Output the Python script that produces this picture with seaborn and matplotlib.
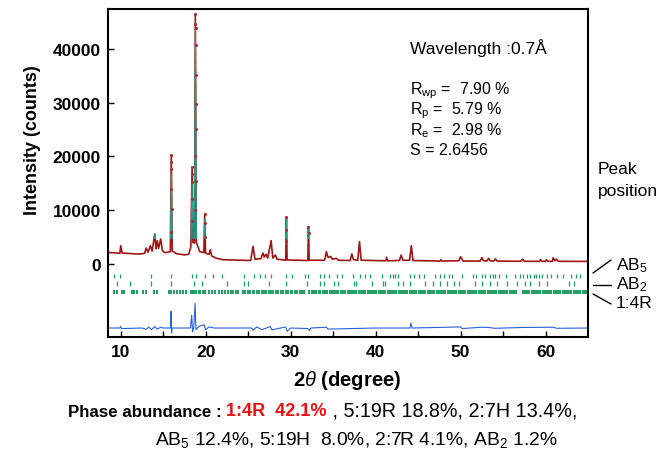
import numpy as np
import pandas as pd
import matplotlib
matplotlib.use("Agg")
import matplotlib.pyplot as plt
from matplotlib.patches import Rectangle
from matplotlib.lines import Line2D
import seaborn as sns

two_theta = [8.5, 9.5, 9.9, 10.0, 10.15, 11.0, 12.0, 12.8, 13.0, 13.2, 13.5, 13.7, 14.0, 14.15,
             14.3, 14.45, 14.7, 14.9, 15.2, 15.84, 15.95, 16.06, 16.6, 17.5, 18.0, 18.25, 18.4, 18.5,
             18.68, 18.78, 18.9, 19.3, 19.78, 19.88, 19.98, 20.4, 20.55, 20.7, 21.2, 22.0, 25.3, 25.57,
             25.8, 26.5, 26.74, 26.9, 27.1, 27.3, 27.7, 27.9, 28.2, 28.4, 29.42, 29.5, 29.58, 32.02,
             32.1, 32.18, 34.0, 34.2, 34.4, 34.7, 34.9, 35.4, 35.6, 37.0, 37.2, 37.4, 37.9, 38.1,
             38.3, 41.2, 41.3, 41.4, 42.8, 43.0, 43.2, 44.0, 44.2, 44.4, 47.6, 47.7, 47.8, 49.8,
             50.0, 50.3, 52.3, 52.5, 52.7, 53.1, 53.3, 53.5, 53.9, 54.1, 54.3, 57.1, 57.3, 57.5,
             59.3, 59.4, 59.6, 60.0, 60.1, 60.3, 60.8, 60.9, 61.1, 61.3, 61.5, 65.0]
y_obs = [2150, 2050, 2000, 3400, 2050, 1950, 1850, 1950, 2970, 2200, 3400, 2400, 5580, 2800,
         4330, 2900, 4650, 2500, 2100, 2300, 20260, 2400, 1900, 1700, 1800, 3200, 17970, 4000,
         3900, 46500, 4000, 2300, 2100, 9290, 2000, 1800, 2660, 1500, 1100, 800, 650, 3280,
         900, 1000, 2040, 1300, 1800, 1100, 4340, 1100, 1670, 900, 700, 8700, 750, 650,
         6850, 700, 700, 2290, 1200, 1400, 900, 1050, 700, 650, 1860, 800, 700, 4150,
         700, 600, 1230, 600, 650, 1670, 700, 700, 3400, 650, 550, 800, 550, 600,
         1350, 550, 550, 1170, 600, 550, 1050, 600, 550, 950, 550, 500, 900, 500,
         500, 800, 500, 500, 800, 500, 500, 1170, 600, 900, 500, 480]
y_calc = [2150, 2050, 2000, 3400, 2050, 1950, 1850, 1950, 2970, 2200, 3400, 2400, 5580, 2800,
          4330, 2900, 4650, 2500, 2100, 2300, 16700, 2400, 1900, 1700, 1800, 3200, 15240, 4000,
          3900, 43400, 4000, 2300, 2100, 8360, 2000, 1800, 2660, 1500, 1100, 800, 650, 3280,
          900, 1000, 2040, 1300, 1800, 1100, 4340, 1100, 1670, 900, 700, 8300, 750, 650,
          6500, 700, 700, 2290, 1200, 1400, 900, 1050, 700, 650, 1860, 800, 700, 4150,
          700, 600, 1230, 600, 650, 1670, 700, 700, 3400, 650, 550, 800, 550, 600,
          1350, 550, 550, 1170, 600, 550, 1050, 600, 550, 950, 550, 500, 900, 500,
          500, 800, 500, 500, 800, 500, 500, 1170, 600, 900, 500, 480]

# separate observed dots visible on the tall peaks
dot_x = [15.93, 15.94, 15.95, 15.96, 15.97, 15.98, 18.38, 18.39, 18.4, 18.41, 18.42,
         18.76, 18.77, 18.78, 18.79, 18.8, 18.81, 18.82, 18.83, 18.84, 18.85,
         19.87, 19.88, 19.89, 29.49, 29.5, 29.51, 32.09, 32.1, 32.11]
dot_y = [6000, 14000, 20260, 19000, 17700, 10300, 8000, 17970, 16800, 15200, 12000,
         10100, 20000, 46500, 44600, 43900, 40800, 35100, 29800, 25100, 15500,
         5000, 9290, 7600, 4200, 8700, 6300, 3500, 6850, 5800]

# difference curve
diff_x = [8.5, 9.9, 10.0, 10.1, 12.5, 13.0, 13.3, 13.6, 14.0, 14.3, 14.7, 15.0, 15.85, 15.92,
          15.98, 16.05, 18.2, 18.35, 18.45, 18.6, 18.75, 18.85, 19.2, 19.8, 20.0, 20.4, 21.0,
          25.4, 25.6, 26.0, 26.6, 27.6, 27.8, 29.4, 29.6, 30.0, 32.0, 32.2, 32.4, 34.2, 34.4,
          40.0, 44.05, 44.15, 44.3, 50.0, 50.2, 52.5, 53.3, 54.0, 57.3, 60.9, 61.3, 65.0]
diff_y = [-11900, -11900, -11600, -12000, -11900, -12150, -11700, -12200, -11650, -12100,
          -11750, -11900, -11900, -8800, -12800, -11900, -11900, -9500, -12600, -11700,
          -7300, -12200, -11600, -11300, -12200, -11700, -11900, -11900, -12300, -11700,
          -12200, -11650, -12250, -11700, -12500, -11900, -12000, -12350, -11900, -11750,
          -12100, -11900, -11900, -11000, -11900, -11700, -12000, -11750, -11800, -11950,
          -11800, -11750, -11950, -11900]

# Bragg peak positions per phase
pos_ab5 = [9.26, 9.88, 13.6, 15.96, 18.39, 18.8, 19.96, 20.9, 21.9, 24.55, 25.65, 26.35, 27.0,
           27.7, 29.5, 30.15, 31.7, 32.0, 33.5, 33.9, 34.5, 35.45, 36.05, 37.3, 38.2, 38.7,
           39.3, 40.75, 41.65, 42.0, 42.3, 42.6, 44.1, 44.5, 45.05, 45.75, 47.0, 47.6, 48.0,
           48.6, 49.0, 50.15, 51.5, 51.8, 52.5, 52.9, 53.5, 53.8, 54.1, 54.5, 55.3, 56.4,
           57.0, 57.3, 57.8, 58.2, 58.6, 58.9, 59.2, 59.6, 60.2, 60.7, 61.3, 62.0, 63.0,
           63.6, 64.0]
pos_ab2 = [9.6, 11.1, 13.6, 15.9, 18.6, 19.6, 22.5, 24.55, 24.95, 27.5, 29.4, 31.9, 33.5,
           33.9, 35.06, 35.6, 37.4, 37.7, 39.6, 40.9, 41.1, 42.6, 43.2, 44.0, 45.8, 46.7,
           47.6, 48.4, 49.2, 49.8, 51.7, 52.5, 53.5, 54.3, 55.45, 56.6, 57.6, 58.2, 59.2,
           60.15, 62.8, 63.3]
pos_14r = [9.26, 9.57, 10.15, 10.43, 11.33, 11.61, 11.92, 12.62, 13.02, 13.88, 14.27, 15.65,
           15.96, 16.3, 16.62, 16.94, 17.33, 17.73, 18.27, 18.5, 18.67, 18.9, 19.18, 19.38,
           19.68, 19.96, 20.35, 20.74, 21.14, 21.53, 21.92, 22.3, 22.61, 22.95, 23.2, 23.55,
           23.78, 24.4, 24.66, 24.93, 25.2, 25.52, 25.74, 26.05, 26.31, 26.6, 26.83, 27.12,
           27.45, 27.7, 27.98, 28.3, 28.52, 28.85, 29.12, 29.4, 29.68, 30.0, 30.21, 30.55,
           30.8, 31.1, 31.36, 31.62, 32.2, 32.47, 32.75, 33.0, 33.28, 33.5, 33.8, 34.05,
           34.33, 34.6, 34.85, 35.1, 35.38, 35.62, 35.9, 36.17, 36.42, 36.7, 36.95, 37.22,
           37.5, 37.73, 38.0, 38.28, 38.55, 38.8, 39.05, 39.3, 39.58, 39.82, 40.1, 40.35,
           40.62, 40.88, 41.15, 41.4, 41.68, 41.93, 42.2, 42.45, 42.7, 42.97, 43.24, 43.5,
           43.75, 44.02, 44.3, 44.55, 44.8, 45.1, 45.35, 45.6, 45.87, 46.12, 46.4, 46.65,
           46.9, 47.18, 47.43, 47.7, 47.95, 48.2, 48.48, 48.73, 49.0, 49.25, 49.52, 49.78,
           50.05, 50.3, 50.55, 50.82, 51.08, 51.35, 51.6, 51.87, 52.12, 52.4, 52.65, 52.9,
           53.18, 53.43, 53.7, 53.95, 54.22, 54.48, 54.73, 55.0, 55.27, 55.52, 55.8, 56.05,
           56.3, 56.58, 57.3, 57.55, 57.82, 58.08, 58.35, 58.6, 58.87, 59.12, 59.4, 59.65,
           59.92, 60.18, 60.43, 60.7, 60.95, 61.22, 61.48, 61.75, 62.0, 62.27, 62.53, 62.8,
           63.05, 63.3, 63.58, 63.83, 64.1, 64.36, 64.62, 64.88]

phase_rows = [(pos_ab5, -2250, 0.9), (pos_ab2, -3650, 0.9), (pos_14r, -5200, 1.4)]

# --- style ---
sns.set_style("ticks")
plt.rcParams['font.family'] = ['Liberation Sans', 'DejaVu Sans']
plt.rcParams['mathtext.fontset'] = 'custom'
plt.rcParams['mathtext.rm'] = 'Liberation Sans'
plt.rcParams['mathtext.it'] = 'Liberation Sans:italic'
plt.rcParams['mathtext.bf'] = 'Liberation Sans:bold'
for key in ['text.color', 'axes.labelcolor', 'xtick.color', 'ytick.color', 'axes.edgecolor']:
    plt.rcParams[key] = 'black'

W, H = 663, 456
fig = plt.figure(figsize=(W / 100, H / 100), dpi=100)
ax = fig.add_axes([108 / W, 1 - 338 / H, 480 / W, 328 / H])

pattern = pd.DataFrame({"two_theta": two_theta, "obs": y_obs, "calc": y_calc})
diff = pd.DataFrame({"two_theta": diff_x, "diff": diff_y})

sns.lineplot(data=pattern, x="two_theta", y="obs", ax=ax, color="#9e1616", lw=1.2,
             estimator=None, sort=False, zorder=2)
sns.lineplot(data=pattern, x="two_theta", y="calc", ax=ax, color="#2a9a88", lw=0.9,
             estimator=None, sort=False, zorder=3)
calc_line = ax.lines[-1]
calc_line.set_clip_path(Rectangle((0, 4600), 100, 60000, transform=ax.transData))
sns.scatterplot(x=dot_x, y=dot_y, ax=ax, color="#a83030", s=5, linewidth=0, zorder=4)
sns.lineplot(data=diff, x="two_theta", y="diff", ax=ax, color="#2a5fd6", lw=0.8,
             estimator=None, sort=False, zorder=2)

for pos, yc, lw in phase_rows:
    ax.vlines(pos, yc - 420, yc + 420, color="#1f9e60", lw=lw, zorder=2)

ax.set_xlim(8.5, 65)
ax.set_ylim(-13570, 47400)
ax.set_xticks([10, 20, 30, 40, 50, 60])
ax.set_xticks([15, 25, 35, 45, 55], minor=True)
ax.set_yticks([0, 10000, 20000, 30000, 40000])
ax.tick_params(axis="both", which="both", direction="in", length=4, width=1,
               top=False, right=False)
ax.tick_params(axis="both", which="major", labelsize=12.5, pad=5)
for lab in ax.get_xticklabels() + ax.get_yticklabels():
    lab.set_fontweight("bold")
for sp in ax.spines.values():
    sp.set_linewidth(1.5)
    sp.set_visible(True)
ax.set_xlabel("")
ax.set_ylabel("")

fig.text(33 / W, 1 - 140 / H, "Intensity (counts)", rotation=90, ha="center", va="center",
         fontsize=13, fontweight="bold")
fig.text(347 / W, 1 - 381 / H, r"2$\theta$ (degree)", ha="center", va="center",
         fontsize=14.5, fontweight="bold")

# refinement info
fig.text(410 / W, 1 - 48 / H, "Wavelength :0.7Å", ha="left", va="center", fontsize=12.5)
stats = [r"R$_{\mathrm{wp}}$ =  7.90 %", r"R$_{\mathrm{p}}$ =  5.79 %",
         r"R$_{\mathrm{e}}$ =  2.98 %", "S = 2.6456"]
for i, s in enumerate(stats):
    fig.text(410 / W, 1 - (91 + i * 20) / H, s, ha="left", va="center", fontsize=11.5)

# peak position key on the right
fig.text(598 / W, 1 - 170 / H, "Peak", ha="left", va="center", fontsize=12.5)
fig.text(598 / W, 1 - 192 / H, "position", ha="left", va="center", fontsize=12.5)
keys = [("AB$_5$", 266, (593, 274), (611, 261)),
        ("AB$_2$", 285, (593, 286), (611, 286)),
        ("1:4R", 304, (593, 295), (611, 305))]
for lab, ty, p0, p1 in keys:
    fig.text(616 / W, 1 - ty / H, lab, ha="left", va="center", fontsize=12.5)
    fig.add_artist(Line2D([p0[0] / W, p1[0] / W], [1 - p0[1] / H, 1 - p1[1] / H],
                          color="black", lw=1))

# phase abundance note
t1 = fig.text(68 / W, 1 - 413 / H, "Phase abundance : ", ha="left", va="center",
              fontsize=12.2, fontweight="bold")
t2 = ax.annotate("1:4R  42.1%", xy=(1, 0), xycoords=t1, va="bottom", ha="left",
                 fontsize=13, fontweight="bold", color="#ee1111")
ax.annotate(" , 5:19R 18.8%, 2:7H 13.4%,", xy=(1, 0), xycoords=t2, va="bottom", ha="left",
            fontsize=14.2)
fig.text(155 / W, 1 - 440 / H, "AB$_5$ 12.4%, 5:19H  8.0%, 2:7R 4.1%, AB$_2$ 1.2%",
         ha="left", va="center", fontsize=13.9)

fig.savefig("out.png", dpi=100)
